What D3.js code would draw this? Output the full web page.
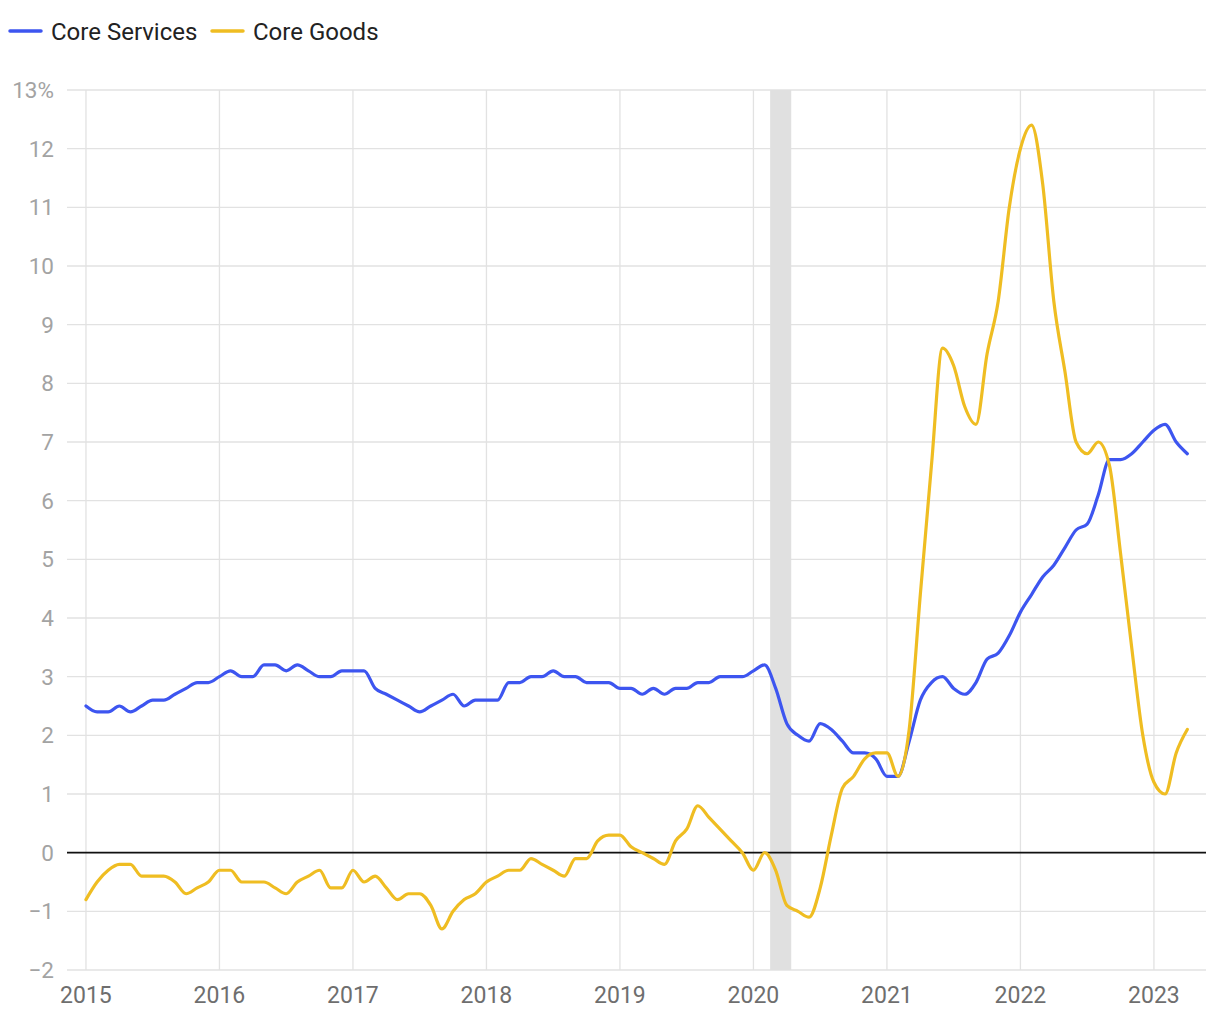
<!DOCTYPE html>
<html>
<head>
<meta charset="utf-8">
<script src="https://cdn.jsdelivr.net/npm/d3@7"></script>
<style>
  html, body { margin: 0; padding: 0; background: #fff; }
  svg { display: block; font-family: Roboto, "Noto Sans", sans-serif; }
</style>
</head>
<body>
<svg id="chart" width="1220" height="1020"></svg>
<script>
// ---- Data (monthly, Jan 2015 – Apr 2023), year-over-year % ----
const startYear = 2015;
const seriesNames = ["Core Services", "Core Goods"];
const seriesColors = ["#3d55f0", "#efbd22"];

const coreServices = [
  2.5, 2.4, 2.4, 2.5, 2.4, 2.5, 2.6, 2.6, 2.7, 2.8, 2.9, 2.9,
  3.0, 3.1, 3.0, 3.0, 3.2, 3.2, 3.1, 3.2, 3.1, 3.0, 3.0, 3.1,
  3.1, 3.1, 2.8, 2.7, 2.6, 2.5, 2.4, 2.5, 2.6, 2.7, 2.5, 2.6,
  2.6, 2.6, 2.9, 2.9, 3.0, 3.0, 3.1, 3.0, 3.0, 2.9, 2.9, 2.9,
  2.8, 2.8, 2.7, 2.8, 2.7, 2.8, 2.8, 2.9, 2.9, 3.0, 3.0, 3.0,
  3.1, 3.2, 2.8, 2.2, 2.0, 1.9, 2.2, 2.1, 1.9, 1.7, 1.7, 1.6,
  1.3, 1.3, 1.9, 2.6, 2.9, 3.0, 2.8, 2.7, 2.9, 3.3, 3.4, 3.7,
  4.1, 4.4, 4.7, 4.9, 5.2, 5.5, 5.6, 6.1, 6.7, 6.7, 6.8, 7.0,
  7.2, 7.3, 7.0, 6.8
];

const coreGoods = [
  -0.8, -0.5, -0.3, -0.2, -0.2, -0.4, -0.4, -0.4, -0.5, -0.7, -0.6, -0.5,
  -0.3, -0.3, -0.5, -0.5, -0.5, -0.6, -0.7, -0.5, -0.4, -0.3, -0.6, -0.6,
  -0.3, -0.5, -0.4, -0.6, -0.8, -0.7, -0.7, -0.9, -1.3, -1.0, -0.8, -0.7,
  -0.5, -0.4, -0.3, -0.3, -0.1, -0.2, -0.3, -0.4, -0.1, -0.1, 0.2, 0.3,
  0.3, 0.1, 0.0, -0.1, -0.2, 0.2, 0.4, 0.8, 0.6, 0.4, 0.2, 0.0,
  -0.3, 0.0, -0.3, -0.9, -1.0, -1.1, -0.6, 0.3, 1.1, 1.3, 1.6, 1.7,
  1.7, 1.3, 2.1, 4.4, 6.6, 8.6, 8.3, 7.6, 7.3, 8.5, 9.4, 11.0,
  12.0, 12.4, 11.4, 9.4, 8.2, 7.0, 6.8, 7.0, 6.6, 5.1, 3.5, 2.0,
  1.2, 1.0, 1.7, 2.1
];

const xTickYears = [2015, 2016, 2017, 2018, 2019, 2020, 2021, 2022, 2023];
const yTicks = [-2, -1, 0, 1, 2, 3, 4, 5, 6, 7, 8, 9, 10, 11, 12, 13];
// Recession shading (decimal years)
const recession = [2020.125, 2020.283];

// ---- Layout ----
const svg = d3.select("#chart");
const plot = { left: 67, right: 1206, top: 90, bottom: 970 };

const x = d3.scaleLinear().domain([2014.858, 2023.39]).range([plot.left, plot.right]);
const y = d3.scaleLinear().domain([-2, 13]).range([plot.bottom, plot.top]);

const dateOf = i => startYear + i / 12;
const series = [coreServices, coreGoods];

// Gridlines (horizontal)
svg.append("g").selectAll("line").data(yTicks).join("line")
  .attr("x1", plot.left).attr("x2", plot.right)
  .attr("y1", d => y(d)).attr("y2", d => y(d))
  .attr("stroke", "#e2e2e2").attr("stroke-width", 1.3);

// Gridlines (vertical)
svg.append("g").selectAll("line").data(xTickYears).join("line")
  .attr("x1", d => x(d)).attr("x2", d => x(d))
  .attr("y1", plot.top).attr("y2", plot.bottom)
  .attr("stroke", "#e2e2e2").attr("stroke-width", 1.3);

// Recession band
svg.append("rect")
  .attr("x", x(recession[0])).attr("width", x(recession[1]) - x(recession[0]))
  .attr("y", plot.top).attr("height", plot.bottom - plot.top)
  .attr("fill", "#e0e0e0");

// Zero line
svg.append("line")
  .attr("x1", plot.left).attr("x2", plot.right)
  .attr("y1", y(0)).attr("y2", y(0))
  .attr("stroke", "#111").attr("stroke-width", 1.6);

// Y tick labels
svg.append("g").selectAll("text").data(yTicks).join("text")
  .attr("x", 54).attr("y", d => y(d))
  .attr("dy", "0.36em")
  .attr("text-anchor", "end")
  .attr("fill", "#a3a3a3")
  .attr("font-size", 22.5)
  .text(d => (d < 0 ? "\u2212" + Math.abs(d) : d) + (d === 13 ? "%" : ""));

// X tick labels
svg.append("g").selectAll("text").data(xTickYears).join("text")
  .attr("x", d => x(d)).attr("y", 1003)
  .attr("text-anchor", "middle")
  .attr("fill", "#6e6e6e")
  .attr("font-size", 23)
  .text(d => d);

// Lines
const line = d3.line()
  .x((d, i) => x(dateOf(i)))
  .y(d => y(d))
  .curve(d3.curveMonotoneX);

svg.append("g").selectAll("path").data(series).join("path")
  .attr("d", d => line(d))
  .attr("fill", "none")
  .attr("stroke", (d, i) => seriesColors[i])
  .attr("stroke-width", 3.2)
  .attr("stroke-linejoin", "round")
  .attr("stroke-linecap", "round");

// Legend
const legendItems = [{ x: 10, name: seriesNames[0], color: seriesColors[0] },
                     { x: 212, name: seriesNames[1], color: seriesColors[1] }];
const lg = svg.append("g").selectAll("g").data(legendItems).join("g")
  .attr("transform", d => `translate(${d.x},31)`);
lg.append("line").attr("x1", 0).attr("x2", 31).attr("y1", 0).attr("y2", 0)
  .attr("stroke", d => d.color).attr("stroke-width", 3.5).attr("stroke-linecap", "round");
lg.append("text").attr("x", 41).attr("dy", "0.36em")
  .attr("font-size", 24).attr("fill", "#222")
  .text(d => d.name);
</script>
</body>
</html>
